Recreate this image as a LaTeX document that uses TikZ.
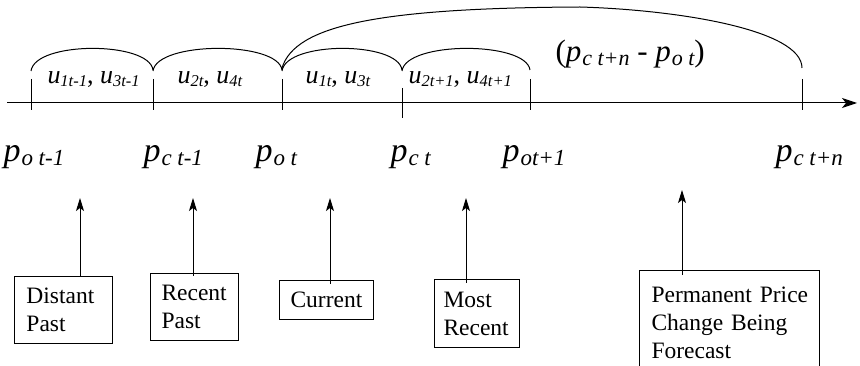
\documentclass[tikz,border=0pt]{standalone}
\usepackage{fontspec}
\setmainfont{Liberation Serif}
\usetikzlibrary{arrows.meta}
\newcommand{\plab}[1]{{\fontsize{34}{34}\selectfont\itshape p}\kern1pt\raisebox{-4pt}{\fontsize{23}{23}\selectfont\itshape #1}}
\newcommand{\ulab}[1]{{\fontsize{26}{26}\selectfont\itshape u}\raisebox{-3pt}{\fontsize{16.5}{16.5}\selectfont\itshape #1}}
\newcommand{\dlab}[1]{{\itshape p}\kern1pt\raisebox{-3.5pt}{\fontsize{22}{22}\selectfont\itshape #1}}
\begin{document}
\begin{tikzpicture}[x=1pt,y=-1pt,line width=1pt,
  ulabel/.style={anchor=base west,inner sep=0pt,font=\fontsize{26}{28}\selectfont},
  plabel/.style={anchor=base west,inner sep=0pt},
  box/.style={anchor=north west,align=left,inner ysep=0pt,font=\fontsize{23.5}{28}\selectfont},
  framed/.style={box,draw},
  uparrow/.style={-{Stealth[length=13pt,width=8pt,inset=3pt]}},
  axisarrow/.style={-{Stealth[length=15pt,width=10pt,inset=4pt]}}]
\useasboundingbox (0,0) rectangle (860,366);
\fill[white] (0,0) rectangle (860,366);
% axis
\coordinate (a0) at (7,103);
\coordinate (a1) at (857,103);
\draw[axisarrow] (a0) -- (a1);
% ticks
\foreach \x in {31,153,282,530,802} \draw (\x,79) -- (\x,110);
\draw (402,88) -- (402,118);
% small arcs
\foreach \a/\b in {31/153,153/282,282/402,402/530}
  \draw (\a,71) .. controls (\a+4,41) and (\b-4,41) .. (\b,70);
% big arc
\draw (282,68) .. controls (295,25) and (380,8) .. (580,7)
      .. controls (680,10) and (802,30) .. (802,68);
% u labels
\node[ulabel] (u1) at (47,84) {\ulab{1t-1}, \ulab{3t-1}};
\node[ulabel] (u2) at (177,84) {\ulab{2t}, \ulab{4t}};
\node[ulabel] (u3) at (305,84) {\ulab{1t}, \ulab{3t}};
\node[ulabel] (u4) at (408,84) {\ulab{2t+1}, \ulab{4t+1}};
% difference label
\node[plabel,font=\fontsize{31}{31}\selectfont] (diff) at (555,62) {(\dlab{c t+n} - \dlab{o t})};
% p labels
\node[plabel] (p1) at (3,162) {\plab{o t-1}};
\node[plabel] (p2) at (143,162) {\plab{c t-1}};
\node[plabel] (p3) at (255,162) {\plab{o t}};
\node[plabel] (p4) at (390,162) {\plab{c t}};
\node[plabel] (p5) at (502,162) {\plab{ot+1}};
\node[plabel] (p6) at (775,162) {\plab{c t+n}};
% boxes
\node[framed,text width=74pt,inner xsep=12pt,minimum height=67pt] (b1) at (14,276) {Distant\\Past};
\node[framed,text width=66pt,inner xsep=11pt,minimum height=67pt] (b2) at (150,273) {Recent\\Past};
\node[framed,text width=72pt,inner xsep=11pt,minimum height=39pt] (b3) at (279,280) {Current};
\node[framed,text width=67pt,inner xsep=9pt,minimum height=68pt] (b4) at (434,279) {Most\\Recent};
\node[box,text width=155pt,inner xsep=12pt,minimum height=102pt] (b5) at (639,271) {\mbox{Permanent Price}\\\mbox{Change Being}\\Forecast};
\draw (b5.south west) |- (b5.north east) -- (b5.south east);
% arrow tips
\coordinate (t1) at (80,198);
\coordinate (t2) at (193,198);
\coordinate (t3) at (330,198);
\coordinate (t4) at (466,198);
\coordinate (t5) at (682,190);
\draw[uparrow] ([yshift=-1pt]b1.north -| t1) -- (t1);
\draw[uparrow] ([yshift=-3pt]b2.north -| t2) -- (t2);
\draw[uparrow] ([yshift=-4pt]b3.north -| t3) -- (t3);
\draw[uparrow] ([yshift=-4pt]b4.north -| t4) -- (t4);
\draw[uparrow] ([yshift=-4pt]b5.north -| t5) -- (t5);
\end{tikzpicture}
\end{document}
